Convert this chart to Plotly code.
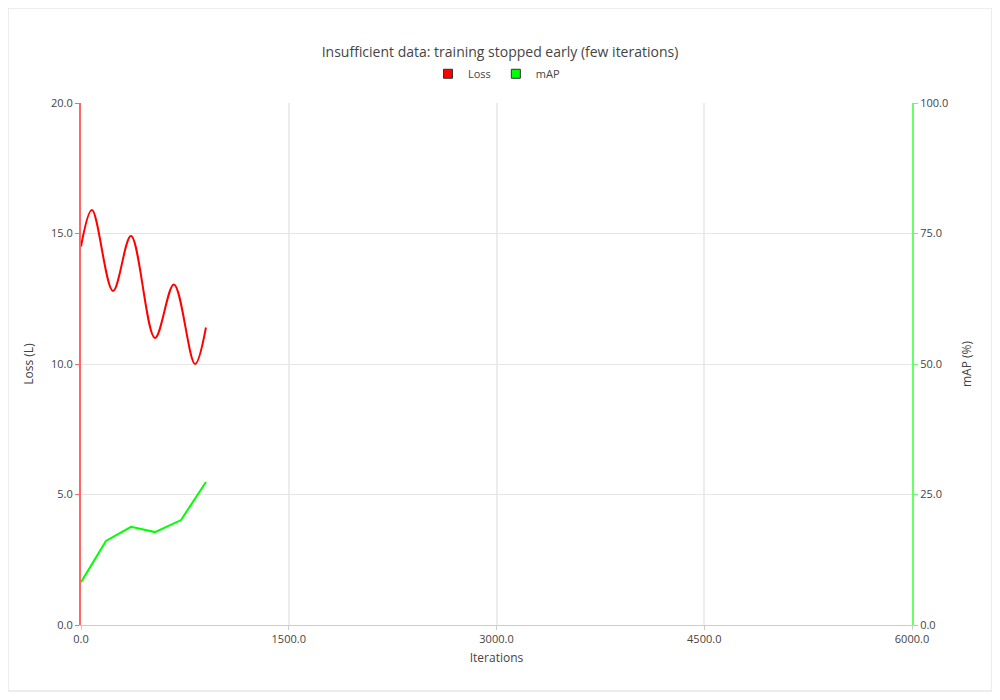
import plotly.graph_objects as go

loss_iters = [0, 79, 231, 361, 534, 671, 823, 902]
loss_vals = [14.5, 15.9, 12.8, 14.9, 11.0, 13.05, 10.0, 11.4]
map_iters = [0, 180, 361, 534, 722, 902]
map_vals = [8.2, 16.1, 18.8, 17.8, 20.1, 27.4]

fig = go.Figure()
fig.add_trace(go.Scatter(x=loss_iters, y=loss_vals, mode="lines", line=dict(color="#ff0000", width=2, shape="spline", smoothing=1.0), showlegend=False))
fig.add_trace(go.Scatter(x=map_iters, y=map_vals, mode="lines", yaxis="y2", line=dict(color="#00ff00", width=2), showlegend=False))
# legend entries with square swatches
for name, col in [("Loss", "#ff0000"), ("mAP", "#00ff00")]:
    fig.add_trace(go.Scatter(x=[None], y=[None], mode="markers", name=name,
                             marker=dict(symbol="square", size=9, color=col, line=dict(color="#333", width=1))))

axis_font = dict(family="Open Sans", size=11, color="#444")
fig.update_layout(
    width=984, height=684,
    paper_bgcolor="#ececec", plot_bgcolor="white",
    margin=dict(l=73, r=80, t=95, b=67),
    font=dict(family="Open Sans", size=12, color="#444"),
    title=dict(text="Insufficient data: training stopped early (few iterations)", x=0.5, y=0.942, xanchor="center", font=dict(size=14, color="#444")),
    legend=dict(orientation="h", x=0.5, xanchor="center", y=1.056, yanchor="middle", font=dict(size=11),
                bgcolor="rgba(0,0,0,0)", itemwidth=30, tracegroupgap=0),
    xaxis=dict(title=dict(text="Iterations", font=dict(family="Open Sans", size=12, color="#444"), standoff=8), range=[0, 6000],
               tickvals=[0, 1500, 3000, 4500, 6000],
               tickformat=".1f", tickfont=axis_font, showgrid=True, gridcolor="#ececec", gridwidth=2,
               showline=True, linecolor="#cccccc", ticks="outside", ticklen=4, tickcolor="#ccc", zeroline=False),
    yaxis=dict(title=dict(text="Loss (L)", font=dict(family="Open Sans", size=12, color="#444")), range=[0, 20],
               tickvals=[0, 5, 10, 15, 20], tickformat=".1f",
               tickfont=axis_font, gridcolor="#e6e6e6", showline=True, linecolor="#ff6666", linewidth=2,
               ticks="outside", ticklen=4, tickcolor="#ff6666", zeroline=False),
    yaxis2=dict(title=dict(text="mAP (%)", font=dict(family="Open Sans", size=12, color="#444")), range=[0, 100],
                tickvals=[0, 25, 50, 75, 100], tickformat=".1f",
                tickfont=axis_font, overlaying="y", side="right", showgrid=False, showline=True, linecolor="#66ff66",
                linewidth=2, ticks="outside", ticklen=4, tickcolor="#66ff66", zeroline=False),
    shapes=[dict(type="rect", xref="paper", yref="paper", x0=-0.0866, x1=1.095, y0=-0.1245, y1=1.180,
                 fillcolor="white", line=dict(width=0), layer="below")],
)
fig.write_html("out.html")
